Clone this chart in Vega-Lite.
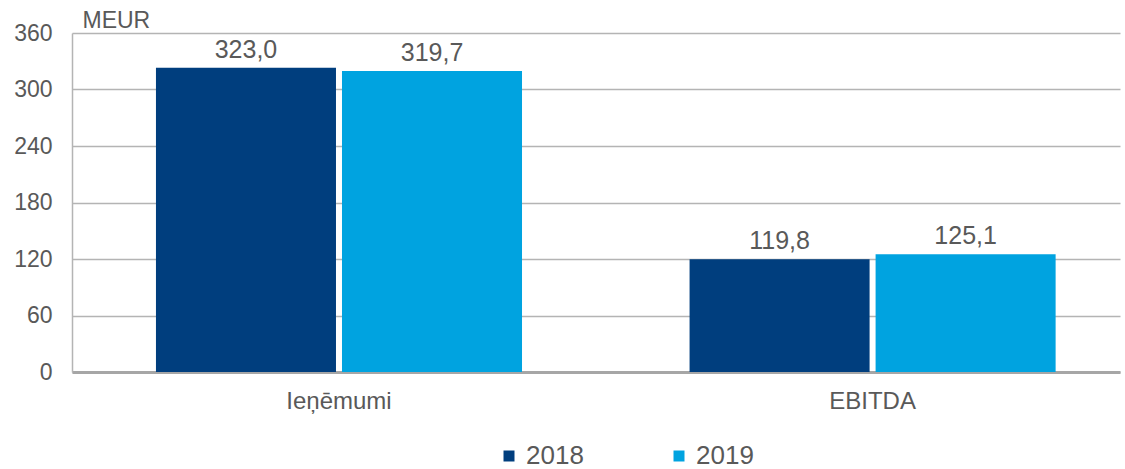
{
  "$schema": "https://vega.github.io/schema/vega-lite/v6.json",
  "width": 1048,
  "height": 339,
  "autosize": {"type": "none"},
  "padding": {"left": 72, "top": 33, "right": 5, "bottom": 97},
  "background": "white",
  "config": {
    "font": "Liberation Sans",
    "view": {"stroke": null},
    "locale": {"number": {"decimal": ",", "thousands": " ", "grouping": [3], "currency": ["", " €"]}},
    "axis": {"labelFont": "Liberation Sans", "titleFont": "Liberation Sans"},
    "legend": {"labelFont": "Liberation Sans", "padding": 0}
  },
  "data": {
    "values": [
      {"category": "Ieņēmumi", "year": "2018", "value": 323.0},
      {"category": "Ieņēmumi", "year": "2019", "value": 319.7},
      {"category": "EBITDA", "year": "2018", "value": 119.8},
      {"category": "EBITDA", "year": "2019", "value": 125.1}
    ]
  },
  "encoding": {
    "x": {
      "field": "category",
      "type": "nominal",
      "sort": ["Ieņēmumi", "EBITDA"],
      "scale": {"paddingInner": 0.314, "paddingOuter": 0.139, "align": 0.566},
      "axis": {
        "title": null,
        "labelAngle": 0,
        "labelFontSize": 24,
        "labelColor": "#595959",
        "labelPadding": 17,
        "ticks": false,
        "domainColor": "#A6A6A6",
        "domainWidth": 3,
        "grid": false
      }
    },
    "xOffset": {
      "field": "year",
      "type": "nominal",
      "scale": {"paddingInner": 0.0323, "paddingOuter": 0}
    },
    "y": {
      "field": "value",
      "type": "quantitative",
      "scale": {"domain": [0, 360], "nice": false},
      "axis": {
        "values": [0, 60, 120, 180, 240, 300, 360],
        "title": "MEUR",
        "titleAngle": 0,
        "titleAlign": "left",
        "titleBaseline": "alphabetic",
        "titleX": 10,
        "titleY": -6,
        "titleFontSize": 23,
        "titleFontWeight": "normal",
        "titleColor": "#595959",
        "labelFontSize": 23,
        "labelColor": "#595959",
        "labelPadding": 20,
        "ticks": false,
        "domain": true,
        "domainColor": "#B4B4B4",
        "domainWidth": 1.5,
        "grid": true,
        "gridColor": "#B4B4B4",
        "gridWidth": 1.5
      }
    }
  },
  "layer": [
    {
      "mark": {"type": "bar"},
      "encoding": {
        "color": {
          "field": "year",
          "type": "nominal",
          "scale": {"domain": ["2018", "2019"], "range": ["#003E7E", "#00A3E0"]},
          "legend": {
            "title": null,
            "orient": "none",
            "direction": "horizontal",
            "legendX": 424,
            "legendY": 410,
            "symbolType": "square",
            "symbolSize": 121,
            "symbolStrokeWidth": 0,
            "labelFontSize": 26,
            "labelColor": "#595959",
            "labelOffset": 4,
            "columnPadding": 82
          }
        }
      }
    },
    {
      "mark": {"type": "text", "baseline": "alphabetic", "dy": -10, "fontSize": 25, "color": "#595959"},
      "encoding": {
        "text": {"field": "value", "type": "quantitative", "format": ".1f"}
      }
    }
  ]
}
